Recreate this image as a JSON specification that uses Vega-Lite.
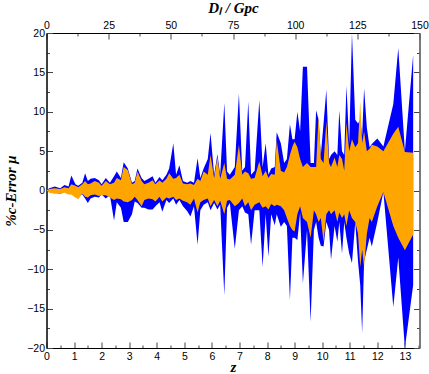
{
  "$schema": "https://vega.github.io/schema/vega-lite/v6.json",
  "autosize": {"type": "none"},
  "width": 373,
  "height": 315,
  "padding": {"left": 46.5, "top": 33, "right": 9.5, "bottom": 26},
  "background": "white",
  "config": {
    "view": {"stroke": "black", "strokeWidth": 1},
    "axis": {
      "grid": false,
      "format": ".1~f",
      "labelFont": "Liberation Sans",
      "labelFontSize": 10.5,
      "labelColor": "black",
      "domainColor": "black",
      "tickColor": "#444",
      "titleFont": "Liberation Serif",
      "titleFontStyle": "italic",
      "titleFontWeight": "bold",
      "titleFontSize": 15,
      "titleColor": "black",
      "labelOverlap": false,
      "labelFlush": false
    }
  },
  "datasets": {
    "d": [
      {"z": 0.0, "bu": 0.0, "bl": 0.0, "ou": 0.0, "ol": 0.0},
      {"z": 0.1, "bu": 0.3, "bl": -0.2, "ou": 0.2, "ol": -0.3},
      {"z": 0.3, "bu": 0.5, "bl": -0.3, "ou": 0.3, "ol": -0.4},
      {"z": 0.5, "bu": 0.3, "bl": -0.4, "ou": 0.2, "ol": -0.4},
      {"z": 0.65, "bu": 0.7, "bl": -0.2, "ou": 0.4, "ol": -0.3},
      {"z": 0.8, "bu": 0.5, "bl": -0.3, "ou": 0.3, "ol": -0.5},
      {"z": 0.9, "bu": 1.9, "bl": -0.4, "ou": 0.8, "ol": -0.5},
      {"z": 1.05, "bu": 0.8, "bl": -0.8, "ou": 0.6, "ol": -0.9},
      {"z": 1.15, "bu": 0.6, "bl": -0.6, "ou": 0.4, "ol": -1.1},
      {"z": 1.3, "bu": 1.0, "bl": -0.5, "ou": 0.8, "ol": -0.4},
      {"z": 1.4, "bu": 2.2, "bl": -1.0, "ou": 1.2, "ol": -0.8},
      {"z": 1.5, "bu": 1.2, "bl": -1.6, "ou": 0.8, "ol": -0.9},
      {"z": 1.6, "bu": 1.5, "bl": -1.0, "ou": 0.9, "ol": -0.6},
      {"z": 1.75, "bu": 1.6, "bl": -0.8, "ou": 1.2, "ol": -0.5},
      {"z": 1.9, "bu": 1.3, "bl": -0.9, "ou": 1.0, "ol": -0.7},
      {"z": 2.0, "bu": 0.8, "bl": -0.5, "ou": 0.6, "ol": -0.6},
      {"z": 2.15, "bu": 1.6, "bl": -1.0, "ou": 1.2, "ol": -0.6},
      {"z": 2.3, "bu": 1.0, "bl": -0.6, "ou": 0.8, "ol": -0.9},
      {"z": 2.45, "bu": 1.8, "bl": -3.8, "ou": 1.0, "ol": -1.2},
      {"z": 2.55, "bu": 2.4, "bl": -1.5, "ou": 1.6, "ol": -1.0},
      {"z": 2.7, "bu": 1.6, "bl": -2.2, "ou": 1.3, "ol": -1.1},
      {"z": 2.8, "bu": 3.6, "bl": -4.0, "ou": 3.0, "ol": -1.4},
      {"z": 2.95, "bu": 2.8, "bl": -4.0, "ou": 2.6, "ol": -1.5},
      {"z": 3.1, "bu": 1.0, "bl": -3.0, "ou": 0.8, "ol": -1.2},
      {"z": 3.2, "bu": 1.2, "bl": -1.4, "ou": 1.0, "ol": -0.8},
      {"z": 3.3, "bu": 2.8, "bl": -1.6, "ou": 2.4, "ol": -1.2},
      {"z": 3.45, "bu": 1.6, "bl": -2.2, "ou": 1.2, "ol": -2.0},
      {"z": 3.55, "bu": 1.2, "bl": -2.2, "ou": 0.8, "ol": -1.2},
      {"z": 3.7, "bu": 1.5, "bl": -2.4, "ou": 1.0, "ol": -1.0},
      {"z": 3.85, "bu": 1.8, "bl": -2.4, "ou": 1.3, "ol": -1.1},
      {"z": 3.95, "bu": 1.0, "bl": -2.0, "ou": 0.8, "ol": -1.4},
      {"z": 4.1, "bu": 1.7, "bl": -1.5, "ou": 1.3, "ol": -0.8},
      {"z": 4.2, "bu": 1.3, "bl": -2.7, "ou": 1.0, "ol": -1.4},
      {"z": 4.35, "bu": 2.0, "bl": -1.2, "ou": 1.5, "ol": -0.9},
      {"z": 4.45, "bu": 2.8, "bl": -1.6, "ou": 2.2, "ol": -1.0},
      {"z": 4.6, "bu": 6.0, "bl": -1.0, "ou": 1.5, "ol": -0.8},
      {"z": 4.7, "bu": 2.0, "bl": -1.8, "ou": 1.6, "ol": -1.2},
      {"z": 4.82, "bu": 3.2, "bl": -1.2, "ou": 2.0, "ol": -1.0},
      {"z": 4.95, "bu": 1.2, "bl": -2.0, "ou": 0.9, "ol": -1.3},
      {"z": 5.1, "bu": 1.0, "bl": -2.6, "ou": 0.8, "ol": -1.5},
      {"z": 5.22, "bu": 1.2, "bl": -3.3, "ou": 0.9, "ol": -1.8},
      {"z": 5.35, "bu": 1.0, "bl": -2.0, "ou": 0.7, "ol": -1.0},
      {"z": 5.48, "bu": 4.1, "bl": -6.9, "ou": 1.5, "ol": -2.8},
      {"z": 5.58, "bu": 1.6, "bl": -2.5, "ou": 1.2, "ol": -1.5},
      {"z": 5.7, "bu": 2.8, "bl": -1.8, "ou": 2.4, "ol": -1.2},
      {"z": 5.85, "bu": 4.0, "bl": -1.5, "ou": 2.0, "ol": -1.0},
      {"z": 5.95, "bu": 7.3, "bl": -2.5, "ou": 4.5, "ol": -2.0},
      {"z": 6.08, "bu": 2.0, "bl": -1.6, "ou": 1.6, "ol": -1.2},
      {"z": 6.2, "bu": 4.6, "bl": -2.4, "ou": 4.3, "ol": -2.0},
      {"z": 6.3, "bu": 2.0, "bl": -1.8, "ou": 1.5, "ol": -1.3},
      {"z": 6.45, "bu": 11.1, "bl": -13.3, "ou": 3.5, "ol": -3.0},
      {"z": 6.55, "bu": 2.4, "bl": -2.2, "ou": 1.5, "ol": -1.3},
      {"z": 6.65, "bu": 2.0, "bl": -1.6, "ou": 1.4, "ol": -1.2},
      {"z": 6.83, "bu": 3.0, "bl": -7.4, "ou": 2.0, "ol": -2.0},
      {"z": 6.98, "bu": 12.3, "bl": -2.5, "ou": 5.8, "ol": -1.6},
      {"z": 7.1, "bu": 2.5, "bl": -2.0, "ou": 2.0, "ol": -1.0},
      {"z": 7.2, "bu": 3.0, "bl": -2.8, "ou": 2.4, "ol": -2.0},
      {"z": 7.32, "bu": 11.3, "bl": -3.0, "ou": 2.2, "ol": -1.5},
      {"z": 7.42, "bu": 2.0, "bl": -6.9, "ou": 1.5, "ol": -2.5},
      {"z": 7.55, "bu": 2.5, "bl": -2.5, "ou": 1.6, "ol": -1.8},
      {"z": 7.72, "bu": 11.5, "bl": -2.5, "ou": 3.7, "ol": -1.5},
      {"z": 7.84, "bu": 3.0, "bl": -9.7, "ou": 1.8, "ol": -2.2},
      {"z": 7.95, "bu": 6.0, "bl": -3.0, "ou": 2.5, "ol": -2.0},
      {"z": 8.05, "bu": 2.0, "bl": -8.4, "ou": 1.6, "ol": -2.4},
      {"z": 8.15, "bu": 2.8, "bl": -3.0, "ou": 2.1, "ol": -1.7},
      {"z": 8.28, "bu": 3.0, "bl": -4.4, "ou": 2.0, "ol": -2.0},
      {"z": 8.35, "bu": 7.4, "bl": -3.0, "ou": 6.4, "ol": -1.8},
      {"z": 8.5, "bu": 6.0, "bl": -4.6, "ou": 2.5, "ol": -2.0},
      {"z": 8.62, "bu": 3.5, "bl": -4.0, "ou": 2.3, "ol": -2.5},
      {"z": 8.72, "bu": 4.0, "bl": -4.5, "ou": 3.0, "ol": -3.5},
      {"z": 8.83, "bu": 8.4, "bl": -13.9, "ou": 4.5, "ol": -4.5},
      {"z": 8.92, "bu": 6.5, "bl": -6.0, "ou": 5.6, "ol": -5.0},
      {"z": 9.0, "bu": 6.5, "bl": -6.0, "ou": 6.2, "ol": -5.2},
      {"z": 9.1, "bu": 10.0, "bl": -6.3, "ou": 5.5, "ol": -3.0},
      {"z": 9.2, "bu": 7.5, "bl": -2.8, "ou": 4.0, "ol": -2.0},
      {"z": 9.3, "bu": 15.7, "bl": -11.8, "ou": 3.0, "ol": -3.5},
      {"z": 9.45, "bu": 15.7, "bl": -5.0, "ou": 3.5, "ol": -4.0},
      {"z": 9.58, "bu": 3.5, "bl": -16.7, "ou": 3.0, "ol": -6.0},
      {"z": 9.7, "bu": 3.5, "bl": -5.0, "ou": 3.0, "ol": -2.5},
      {"z": 9.78, "bu": 10.2, "bl": -4.0, "ou": 3.0, "ol": -3.0},
      {"z": 9.87, "bu": 9.0, "bl": -6.0, "ou": 9.6, "ol": -4.0},
      {"z": 9.95, "bu": 4.5, "bl": -7.0, "ou": 4.0, "ol": -3.5},
      {"z": 10.05, "bu": 8.5, "bl": -7.1, "ou": 3.5, "ol": -6.5},
      {"z": 10.15, "bu": 12.8, "bl": -4.0, "ou": 8.8, "ol": -3.0},
      {"z": 10.25, "bu": 4.0, "bl": -5.0, "ou": 3.5, "ol": -2.5},
      {"z": 10.32, "bu": 4.5, "bl": -8.8, "ou": 3.0, "ol": -3.0},
      {"z": 10.45, "bu": 5.0, "bl": -4.5, "ou": 4.2, "ol": -2.5},
      {"z": 10.55, "bu": 4.5, "bl": -6.5, "ou": 3.0, "ol": -4.0},
      {"z": 10.62, "bu": 10.2, "bl": -4.0, "ou": 4.5, "ol": -2.8},
      {"z": 10.72, "bu": 5.0, "bl": -8.0, "ou": 4.0, "ol": -3.5},
      {"z": 10.8, "bu": 4.5, "bl": -4.0, "ou": 2.5, "ol": -3.0},
      {"z": 10.88, "bu": 13.3, "bl": -6.0, "ou": 8.6, "ol": -4.5},
      {"z": 10.98, "bu": 6.0, "bl": -8.0, "ou": 5.0, "ol": -2.5},
      {"z": 11.08, "bu": 20.0, "bl": -9.2, "ou": 6.5, "ol": -3.5},
      {"z": 11.2, "bu": 9.0, "bl": -4.0, "ou": 5.5, "ol": -4.0},
      {"z": 11.3, "bu": 8.5, "bl": -9.0, "ou": 6.0, "ol": -5.5},
      {"z": 11.38, "bu": 9.0, "bl": -12.0, "ou": 11.3, "ol": -9.7},
      {"z": 11.45, "bu": 7.0, "bl": -18.1, "ou": 6.0, "ol": -7.5},
      {"z": 11.52, "bu": 13.0, "bl": -9.0, "ou": 7.5, "ol": -9.7},
      {"z": 11.62, "bu": 8.0, "bl": -7.5, "ou": 5.0, "ol": -5.5},
      {"z": 11.72, "bu": 5.5, "bl": -6.0, "ou": 5.3, "ol": -3.5},
      {"z": 11.8, "bu": 5.9, "bl": -7.1, "ou": 5.8, "ol": -4.0},
      {"z": 12.0, "bu": 6.6, "bl": -4.0, "ou": 5.6, "ol": -2.0},
      {"z": 12.22, "bu": 5.6, "bl": -0.2, "ou": 5.0, "ol": -0.2},
      {"z": 12.58, "bu": 11.0, "bl": -14.8, "ou": 7.2, "ol": -4.5},
      {"z": 12.76, "bu": 18.1, "bl": -8.5, "ou": 8.1, "ol": -6.0},
      {"z": 13.0, "bu": 5.0, "bl": -20.0, "ou": 4.9, "ol": -7.6},
      {"z": 13.3, "bu": 17.2, "bl": -12.0, "ou": 4.8, "ol": -5.6}
    ]
  },
  "layer": [
    {
      "data": {"name": "d"},
      "layer": [
        {
          "mark": {"type": "area", "color": "#0000ff", "opacity": 1},
          "encoding": {
            "x": {
              "field": "z", "type": "quantitative",
              "scale": {"domain": [0, 13.53], "nice": false, "zero": false},
              "axis": {
                "orient": "bottom",
                "title": "z",
                "format": ".1~f",
                "tickCount": 200,
                "values": [0,0.5,1,1.5,2,2.5,3,3.5,4,4.5,5,5.5,6,6.5,7,7.5,8,8.5,9,9.5,10,10.5,11,11.5,12,12.5,13,13.5],
                "labelExpr": "datum.value % 1 ? '' : datum.label",
                "labelOverlap": false,
                "tickSize": {"condition": {"test": "datum.value % 1 != 0", "value": -3}, "value": -6},
                "tickWidth": 1,
                "labelPadding": 9,
                "titlePadding": -5
              }
            },
            "y": {
              "field": "bu", "type": "quantitative",
              "scale": {"domain": [-20, 20], "nice": false, "zero": false},
              "axis": {
                "orient": "left",
                "title": "%c-Error μ",
                "format": ".1~f",
                "tickCount": 200,
                "values": [-20,-17.5,-15,-12.5,-10,-7.5,-5,-2.5,0,2.5,5,7.5,10,12.5,15,17.5,20],
                "labelExpr": "datum.value % 5 ? '' : datum.label",
                "labelOverlap": false,
                "tickSize": {"condition": {"test": "datum.value % 5 != 0", "value": -3}, "value": -6},
                "tickWidth": 1,
                "labelPadding": 8,
                "titlePadding": 8
              }
            },
            "y2": {"field": "bl"}
          }
        },
        {
          "mark": {"type": "area", "color": "#ffa500", "opacity": 1},
          "encoding": {
            "x": {"field": "z", "type": "quantitative", "title": "z"},
            "y": {"field": "ou", "type": "quantitative", "title": "%c-Error μ"},
            "y2": {"field": "ol"}
          }
        }
      ]
    },
    {
      "data": {"values": [{"D": 0}, {"D": 150}]},
      "mark": {"type": "point", "opacity": 0},
      "encoding": {
        "x": {
          "field": "D", "type": "quantitative",
          "scale": {"domain": [0, 150], "nice": false},
          "axis": {
            "orient": "top",
            "title": "Dₗ / Gpc",
            "format": ".1~f",
            "tickCount": 200,
            "values": [0,12.5,25,37.5,50,62.5,75,87.5,100,112.5,125,137.5,150],
            "labelExpr": "datum.value % 25 ? '' : datum.label",
            "labelOverlap": false,
            "tickSize": {"condition": {"test": "datum.value % 25 != 0", "value": -3}, "value": -6},
            "tickWidth": 1,
            "labelPadding": 9,
            "titlePadding": 2
          }
        }
      }
    },
    {
      "data": {"values": [{"v": -20}, {"v": 20}]},
      "mark": {"type": "point", "opacity": 0},
      "encoding": {
        "y": {
          "field": "v", "type": "quantitative",
          "scale": {"domain": [-20, 20], "nice": false},
          "axis": {
            "orient": "right",
            "title": null,
            "labels": false,
            "tickCount": 200,
            "values": [-20,-17.5,-15,-12.5,-10,-7.5,-5,-2.5,0,2.5,5,7.5,10,12.5,15,17.5,20],
            "tickSize": {"condition": {"test": "datum.value % 5 != 0", "value": -3}, "value": -6},
            "tickWidth": 1,
            "domainColor": "#777"
          }
        }
      }
    }
  ],
  "resolve": {"scale": {"x": "independent", "y": "independent"}}
}
